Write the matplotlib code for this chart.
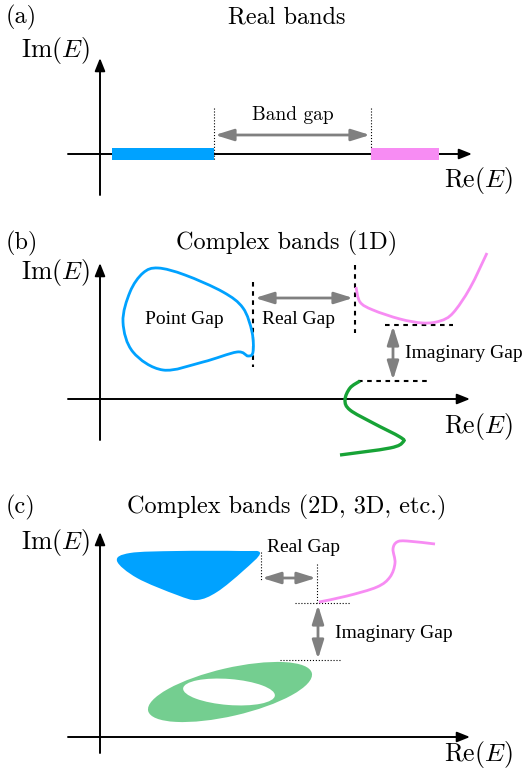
import numpy as np
import matplotlib
matplotlib.use("agg")
from matplotlib import pyplot as plt
from matplotlib.path import Path
from matplotlib.patches import PathPatch, Ellipse, Rectangle

plt.rcParams['mathtext.fontset'] = 'cm'

BLUE = '#00a2ff'
PINK = '#f78cf3'
GREEN = '#17a336'
GREEN_FILL = '#74ce90'
GRAY = '#808080'

# (a) real bands: intervals on the real axis
band_a_blue = (112, 214)
band_a_pink = (371, 439)

# (b) 1D complex bands, control points of the spectral curves
loop_b_x = [158, 185, 223, 243, 252, 253, 248, 237, 203, 163, 133, 123, 130, 143]
loop_b_y = [268, 275, 292, 308, 332, 352, 356, 352, 362, 370, 352, 322, 292, 273]
pink_b_x = [356, 360, 373, 400, 423, 440, 453, 470, 487]
pink_b_y = [287, 302, 310, 319, 323, 321, 313, 288, 253]
green_b_x = [360, 350, 345, 350, 373, 400, 403, 390, 340]
green_b_y = [381, 388, 400, 410, 423, 437, 442, 448, 455]

# (c) 2D/3D complex bands
blob_c_x = [117, 130, 177, 240, 260, 243, 217, 197, 177, 137]
blob_c_y = [561, 553, 551, 551, 553, 571, 592, 600, 595, 578]
pink_c_x = [319, 347, 377, 390, 395, 393, 397, 407, 435]
pink_c_y = [602, 596, 587, 577, 563, 549, 542, 541, 544]
ring_outer = dict(xy=(230, 692), width=168, height=48, angle=-13)
ring_inner = dict(xy=(229, 692), width=92, height=26, angle=4.5)


def smooth_path(xs, ys, closed=False):
    # Catmull-Rom through the points, handed to Path as cubic Beziers
    p = np.column_stack([xs, ys]).astype(float)
    n = len(p)
    if closed:
        ext = np.vstack([p[-1], p, p[0], p[1]])
        nseg = n
    else:
        ext = np.vstack([p[0], p, p[-1]])
        nseg = n - 1
    verts = [ext[1]]
    codes = [Path.MOVETO]
    for i in range(nseg):
        p0, p1, p2, p3 = ext[i], ext[i + 1], ext[i + 2], ext[i + 3]
        verts += [p1 + (p2 - p0) / 6, p2 - (p3 - p1) / 6, p2]
        codes += [Path.CURVE4] * 3
    if closed:
        verts.append(ext[1])
        codes.append(Path.CLOSEPOLY)
    return Path(verts, codes)


def axes_arrows(ax, x0, x1, y_axis, y0, y1):
    kw = dict(arrowstyle='-|>,head_length=0.55,head_width=0.22', color='k', lw=1.4,
              shrinkA=0, shrinkB=0, mutation_scale=14)
    ax.annotate('', xy=(x1, y_axis), xytext=(x0, y_axis), arrowprops=kw)
    ax.annotate('', xy=(100, y1), xytext=(100, y0), arrowprops=kw)


def gap_arrow(ax, p, q):
    ax.annotate('', xy=q, xytext=p,
                arrowprops=dict(arrowstyle='<|-|>,head_length=0.8,head_width=0.25',
                                color=GRAY, lw=2.0, shrinkA=0, shrinkB=0,
                                mutation_scale=14))


def panel_text(ax, tag, title, y, ylab_y, xlab_y):
    ax.text(6, y, tag, family='cmr10', fontsize=17.5, ha='left', va='center')
    ax.text(287, y, title, family='cmr10', fontsize=17.5, ha='center', va='center')
    ax.text(56, ylab_y, r'$\mathrm{Im}(E)$', fontsize=18.5, ha='center', va='center')
    ax.text(478, xlab_y, r'$\mathrm{Re}(E)$', fontsize=18.5, ha='center', va='center')


fig = plt.figure(figsize=(5.25, 7.7), dpi=100)
ax = fig.add_axes([0, 0, 1, 1])
ax.set_xlim(0, 525)
ax.set_ylim(770, 0)
ax.axis('off')

# ---- (a)
panel_text(ax, '(a)', 'Real bands', 17, 50, 180)
axes_arrows(ax, 68, 472, 154, 195, 58)
ax.add_patch(Rectangle((band_a_blue[0], 148), band_a_blue[1] - band_a_blue[0], 12,
                       color=BLUE, lw=0, zorder=3))
ax.add_patch(Rectangle((band_a_pink[0], 148), band_a_pink[1] - band_a_pink[0], 12,
                       color=PINK, lw=0, zorder=3))
for bx in (band_a_blue[1], band_a_pink[0]):
    ax.plot([bx, bx], [108, 160], ls=':', color='k', lw=0.8)
gap_arrow(ax, (band_a_blue[1] + 1, 135), (band_a_pink[0] - 1, 135))
ax.text(293, 115, 'Band gap', family='cmr10', fontsize=14, ha='center', va='center')

# ---- (b)
panel_text(ax, '(b)', 'Complex bands (1D)', 243, 272, 427)
axes_arrows(ax, 68, 470, 399, 440, 263)
ax.add_patch(PathPatch(smooth_path(loop_b_x, loop_b_y, closed=True),
                       fill=False, ec=BLUE, lw=2.0, zorder=3))
ax.add_patch(PathPatch(smooth_path(pink_b_x, pink_b_y), fill=False, ec=PINK,
                       lw=2.0, zorder=3))
ax.add_patch(PathPatch(smooth_path(green_b_x, green_b_y), fill=False, ec=GREEN,
                       lw=2.4, zorder=3))
dash = dict(color='k', lw=1.5, ls=(0, (2.2, 2.2)))
ax.plot([253, 253], [282, 367], **dash)
ax.plot([355, 355], [265, 333], **dash)
ax.plot([385, 453], [325, 325], **dash)
ax.plot([358, 427], [381, 381], **dash)
gap_arrow(ax, (255, 298), (353, 298))
gap_arrow(ax, (393, 326), (393, 380))
ax.text(184, 320, 'Point Gap', family='Liberation Serif', fontsize=14, ha='center', va='center')
ax.text(299, 319, 'Real Gap', family='Liberation Serif', fontsize=14, ha='center', va='center')
ax.text(405, 353, 'Imaginary Gap', family='Liberation Serif', fontsize=14, ha='left', va='center')

# ---- (c)
panel_text(ax, '(c)', 'Complex bands (2D, 3D, etc.)', 507, 542, 755)
axes_arrows(ax, 68, 470, 737, 753, 532)
ax.add_patch(PathPatch(smooth_path(blob_c_x, blob_c_y, closed=True),
                       fc=BLUE, ec='none', zorder=3))
ax.add_patch(Ellipse(**ring_outer, fc=GREEN_FILL, ec='none', zorder=3))
ax.add_patch(Ellipse(**ring_inner, fc='white', ec='none', zorder=4))
ax.add_patch(PathPatch(smooth_path(pink_c_x, pink_c_y), fill=False, ec=PINK,
                       lw=2.0, zorder=3))
dot = dict(color='k', lw=0.8, ls=':')
ax.plot([261, 261], [552, 580], **dot)
ax.plot([317, 317], [564, 603], **dot)
ax.plot([295, 350], [603, 603], **dot)
ax.plot([280, 340], [660, 660], **dot)
gap_arrow(ax, (262, 578), (316, 578))
gap_arrow(ax, (318, 605), (318, 659))
ax.text(267, 548, 'Real Gap', family='Liberation Serif', fontsize=14, ha='left', va='center')
ax.text(335, 633, 'Imaginary Gap', family='Liberation Serif', fontsize=14, ha='left', va='center')

fig.savefig('out.png', dpi=100)
